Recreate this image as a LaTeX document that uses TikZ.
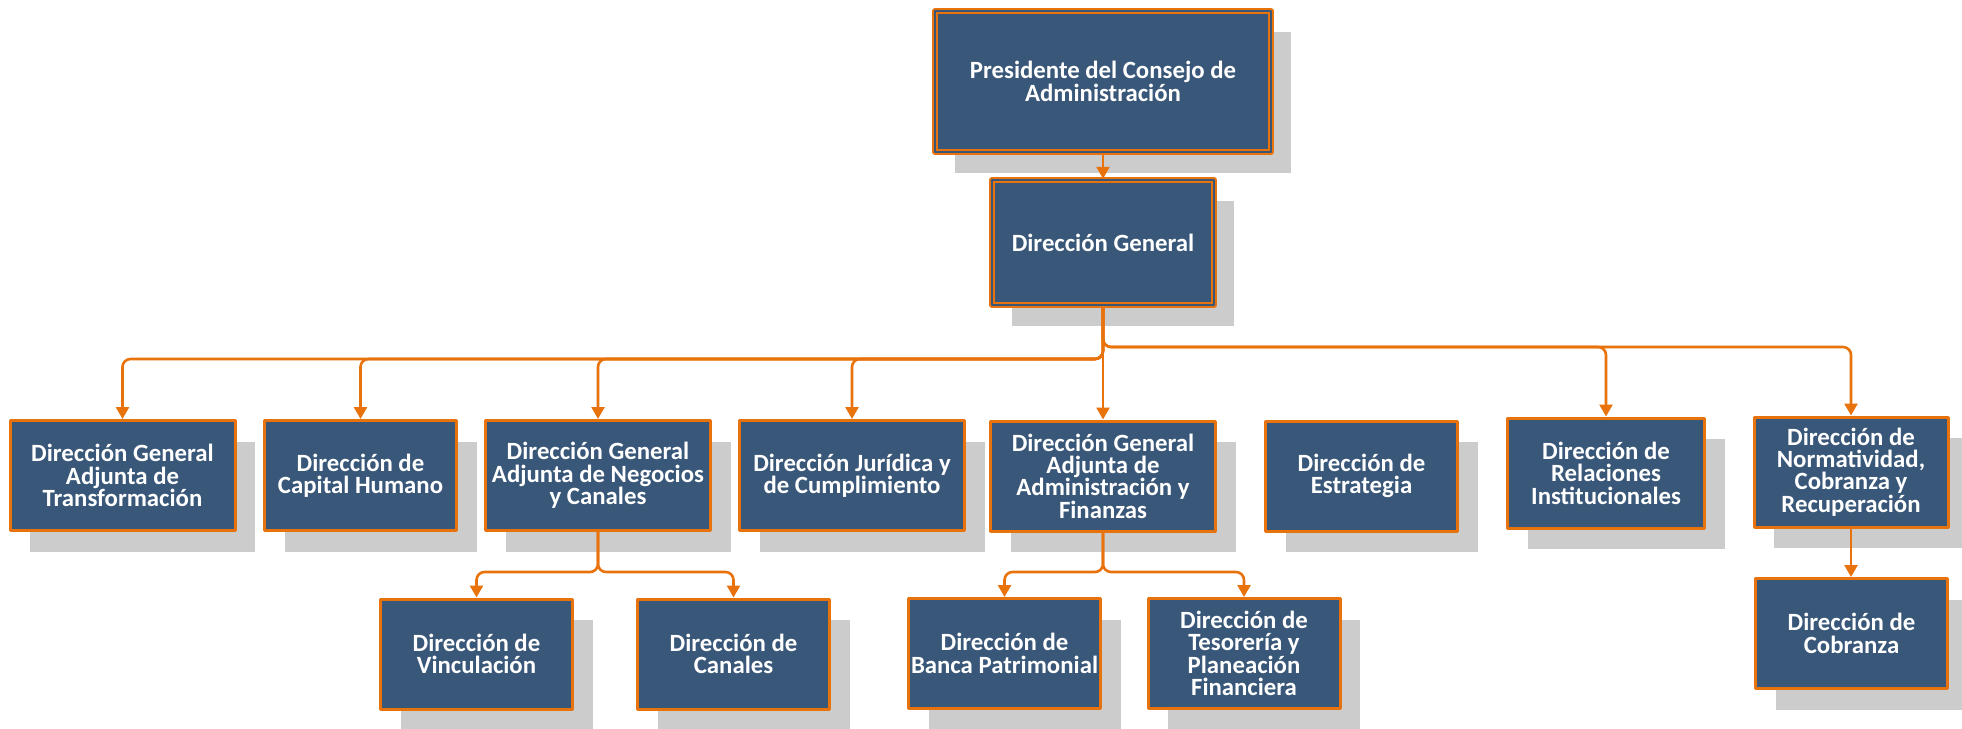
\documentclass[tikz,border=0pt]{standalone}
\usepackage{fontspec}
\setmainfont{Carlito}
\usepackage{xcolor}
\usepackage{tikz}
\usetikzlibrary{arrows.meta,shadows}

\definecolor{boxblue}{HTML}{395779}
\definecolor{lineorange}{HTML}{E8720C}
\definecolor{shadowgray}{HTML}{CCCCCC}

\begin{document}
\begin{tikzpicture}[x=0.5pt,y=0.5pt,>={Triangle[length=6pt,width=6.5pt]},line join=round,
  unit/.style={rectangle,fill=boxblue,draw=lineorange,line width=1.5pt,text=white,
    font=\fontsize{12.4}{11.2}\selectfont\bfseries,align=center,inner sep=0pt,
    general shadow={fill=shadowgray,shadow xshift=10pt,shadow yshift=-10.5pt}},
  headbox/.style={unit,line width=1.2pt,double=boxblue,double distance=0.6pt},
  narrow/.style={unit,minimum width=96pt,minimum height=55pt},
  wide/.style={unit,minimum width=112.5pt,minimum height=55pt},
  conn/.style={draw=lineorange,line width=1.3pt,rounded corners=4pt,->}]
  \useasboundingbox (0,0) rectangle (1962,-728);
  % top of the chart
  \node[headbox,minimum width=168pt,minimum height=70.5pt] (pres) at (1103,-81.5) {Presidente del Consejo de\\Administración};
  \node[headbox,minimum width=111pt,minimum height=62.5pt] (dg) at (1103,-242.5) {Dirección General};
  % first level
  \node[wide] (trans) at (122.5,-475.5) {Dirección General\\Adjunta de\\Transformación};
  \node[narrow] (capital) at (360.5,-475.5) {Dirección de\\Capital Humano};
  \node[wide] (negocios) at (598,-475.5) {Dirección General\\Adjunta de Negocios\\y Canales};
  \node[wide] (juridica) at (852,-475.5) {Dirección Jurídica y\\de Cumplimiento};
  \node[wide] (admin) at (1103,-476) {Dirección General\\Adjunta de\\Administración y\\Finanzas};
  \node[narrow] (estrategia) at (1361.5,-476) {Dirección de\\Estrategia};
  \node[narrow,minimum width=98.5pt] (relaciones) at (1606,-473) {Dirección de\\Relaciones\\Institucionales};
  \node[narrow,minimum width=97pt] (normat) at (1851,-472) {Dirección de\\Normatividad,\\Cobranza y\\Recuperación};
  % second level
  \node[narrow] (vincul) at (476.5,-654) {Dirección de\\Vinculación};
  \node[narrow] (canales) at (733.5,-654) {Dirección de\\Canales};
  \node[narrow] (banca) at (1004.5,-653.5) {Dirección de\\Banca Patrimonial};
  \node[narrow] (tesoreria) at (1244,-653.5) {Dirección de\\Tesorería y\\Planeación\\Financiera};
  \node[narrow] (cobranza) at (1851.5,-633.5) {Dirección de\\Cobranza};
  % connectors
  \coordinate (busL) at (0,-359);
  \coordinate (busR) at (0,-347);
  \coordinate (fork) at (0,-572);
  \draw[conn] (pres.south) -- (dg.north);
  \foreach \t in {trans,capital,negocios,juridica}
    \draw[conn] (dg.south) -- (dg.south |- busL) -| (\t.north);
  \draw[conn] (dg.south) -- (admin.north);
  \foreach \t in {relaciones,normat}
    \draw[conn] (dg.south) -- (dg.south |- busR) -| (\t.north);
  \foreach \t in {vincul,canales}
    \draw[conn] (negocios.south) -- (negocios.south |- fork) -| (\t.north);
  \foreach \t in {banca,tesoreria}
    \draw[conn] (admin.south) -- (admin.south |- fork) -| (\t.north);
  \draw[conn] (normat.south) -- (normat.south |- cobranza.north);
\end{tikzpicture}
\end{document}
